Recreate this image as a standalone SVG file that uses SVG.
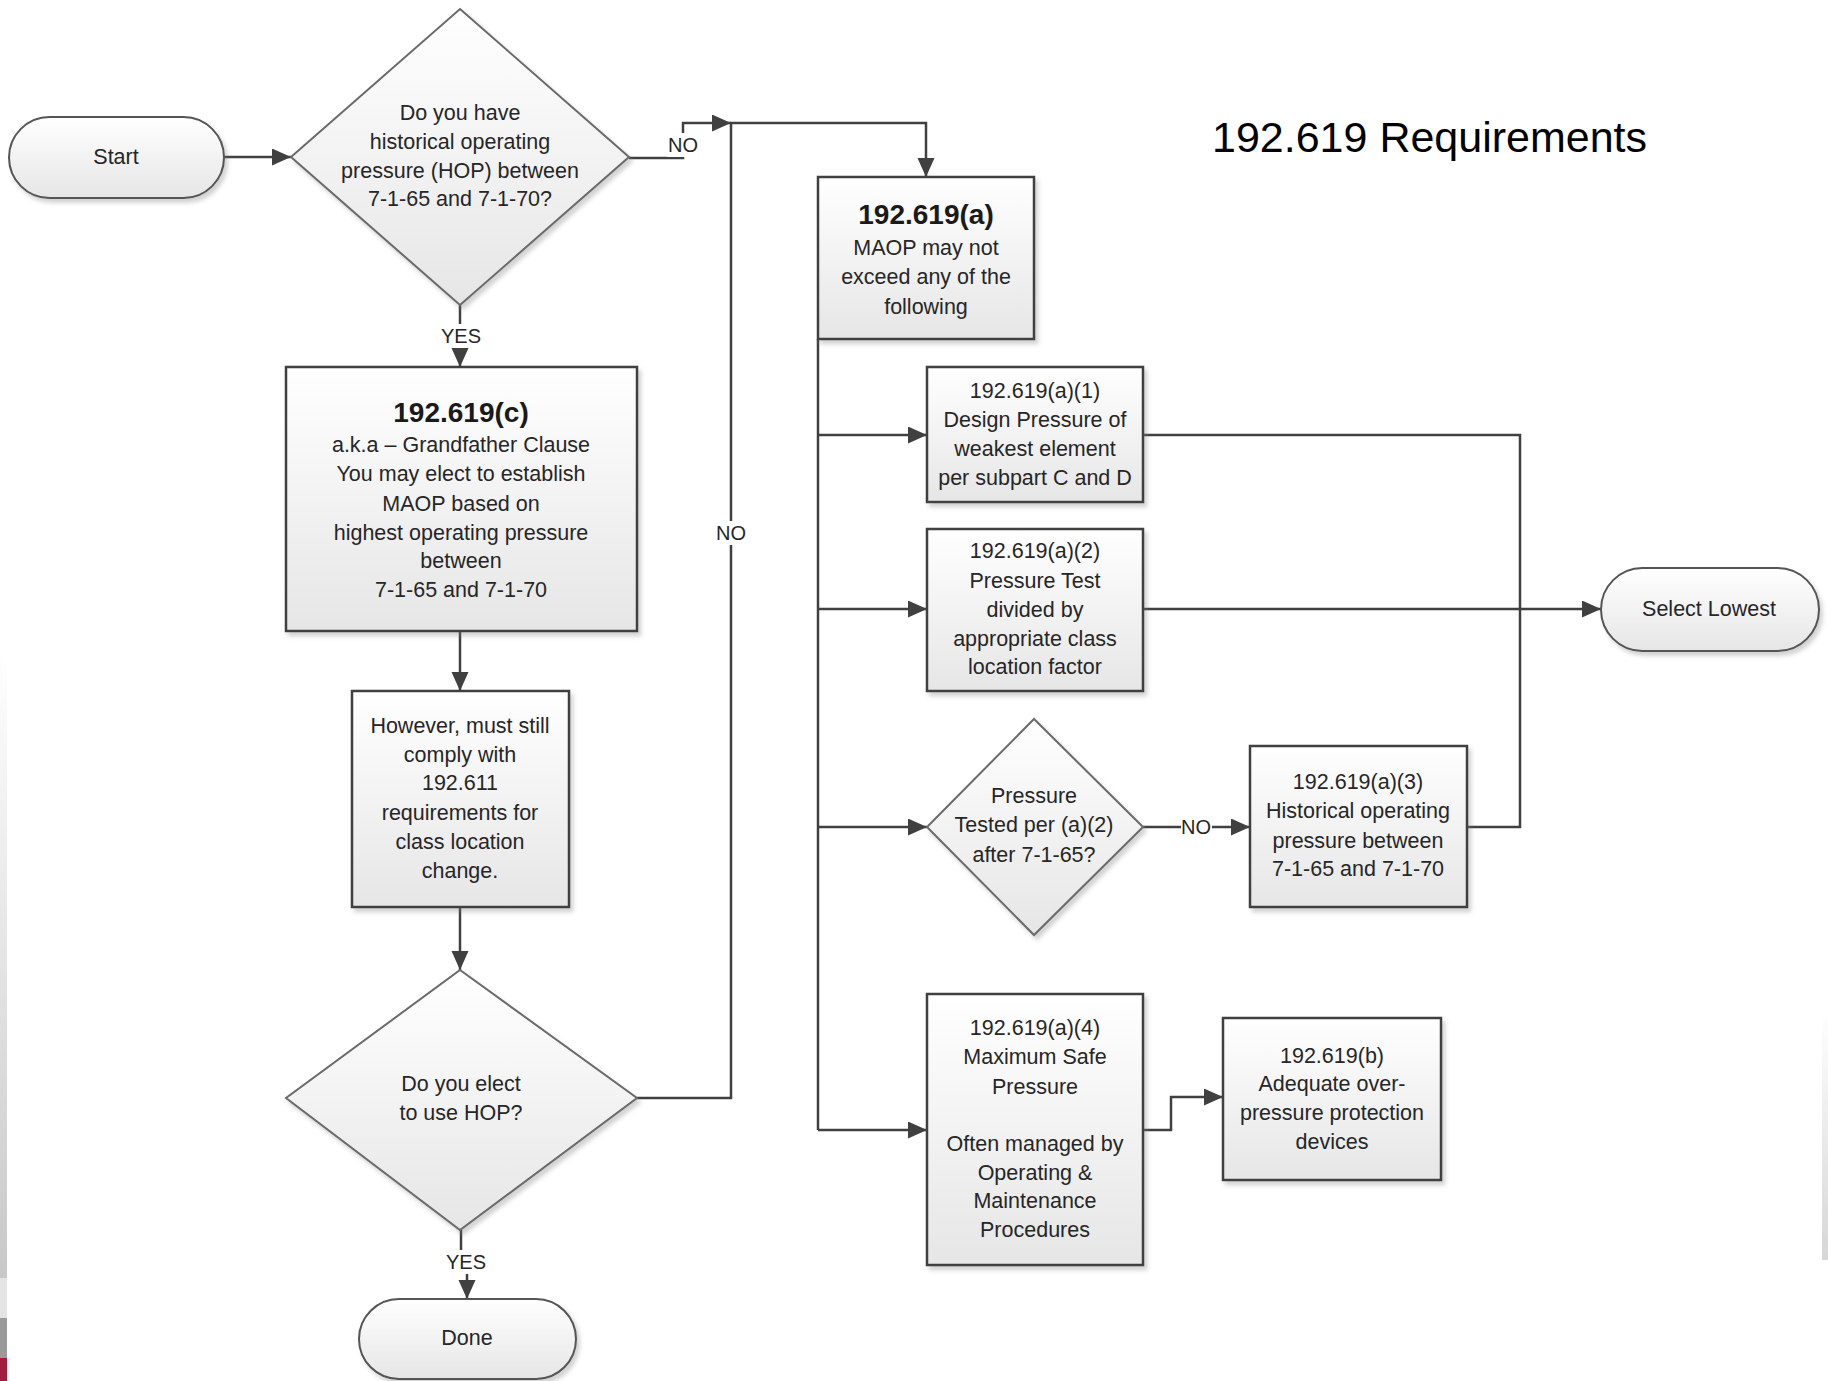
<svg xmlns="http://www.w3.org/2000/svg" width="1828" height="1381" viewBox="0 0 1828 1381">
  <style>
    text { font-family: "Liberation Sans", Arial, sans-serif; fill: #262626; text-anchor: middle; dominant-baseline: central; }
    .t { font-size: 21.5px; }
    .h { font-size: 28px; font-weight: bold; fill: #1a1a1a; }
    .lbl { font-size: 20px; }
    .title { font-size: 43px; fill: #000; text-anchor: start; }
    .box { fill: url(#shade); stroke: #404040; stroke-width: 2.5; filter: url(#shadow); }
    .dia { fill: url(#shade); stroke: #6a6a6a; stroke-width: 2; filter: url(#shadow); }
    .term { fill: url(#shade); stroke: #555; stroke-width: 2; filter: url(#shadow); }
    .wire { fill: none; stroke: #404040; stroke-width: 2.5; }
    .arrow { marker-end: url(#head); }
    .lblbg { fill: #fff; }
  </style>
  <defs>
    <linearGradient id="shade" x1="0" y1="0" x2="0" y2="1">
      <stop offset="0" stop-color="#ffffff"/>
      <stop offset="1" stop-color="#e6e6e6"/>
    </linearGradient>
    <linearGradient id="edgeL" x1="0" y1="0" x2="0" y2="1">
      <stop offset="0" stop-color="#ffffff"/>
      <stop offset="1" stop-color="#c8c8c8"/>
    </linearGradient>
    <linearGradient id="edgeR" x1="0" y1="0" x2="0" y2="1">
      <stop offset="0" stop-color="#ffffff"/>
      <stop offset="1" stop-color="#d6d6d6"/>
    </linearGradient>
    <filter id="shadow" x="-10%" y="-10%" width="130%" height="130%">
      <feDropShadow dx="3" dy="4" stdDeviation="2" flood-color="#808080" flood-opacity="0.35"/>
    </filter>
    <marker id="head" markerUnits="userSpaceOnUse" markerWidth="20" markerHeight="18" refX="19" refY="8.5" orient="auto">
      <path d="M0,0 L19,8.5 L0,17 Z" fill="#404040"/>
    </marker>
  </defs>

  <!-- page background and edge strips -->
  <rect x="0" y="0" width="1828" height="1381" fill="#fff"/>
  <rect x="0" y="650" width="7" height="628" fill="url(#edgeL)"/>
  <rect x="0" y="1278" width="7" height="40" fill="#e4e4e4"/>
  <rect x="0" y="1318" width="7" height="40" fill="#9a9a9a"/>
  <rect x="0" y="1358" width="7" height="23" fill="#a31d3d"/>
  <rect x="1822" y="1010" width="6" height="250" fill="url(#edgeR)"/>

  <text class="title" x="1212" y="137">192.619 Requirements</text>

  <!-- connectors -->
  <g id="connectors">
    <path class="wire arrow" d="M224 157 H291"/>
    <path class="wire arrow" d="M629 158 H683 V123 H731"/>
    <path class="wire arrow" d="M460 305 V367"/>
    <path class="wire arrow" d="M460 631 V691"/>
    <path class="wire arrow" d="M460 907 V970"/>
    <path class="wire arrow" d="M637 1098 H731 V123 H926 V177"/>
    <path class="wire arrow" d="M461 1230 V1261 H467 V1299"/>
    <path class="wire" d="M818 339 V1130"/>
    <path class="wire arrow" d="M818 435 H927"/>
    <path class="wire arrow" d="M818 609 H927"/>
    <path class="wire arrow" d="M818 827 H927"/>
    <path class="wire arrow" d="M818 1130 H927"/>
    <path class="wire" d="M1143 435 H1520 V609"/>
    <path class="wire arrow" d="M1143 609 H1601"/>
    <path class="wire" d="M1467 827 H1520 V609"/>
    <path class="wire arrow" d="M1143 827 H1250"/>
    <path class="wire arrow" d="M1143 1130 H1171 V1097 H1223"/>

    <!-- connector labels -->
    <rect class="lblbg" x="667" y="133" width="32" height="24"/>
    <text class="lbl" x="683" y="145">NO</text>
    <rect class="lblbg" x="445" y="324" width="32" height="24"/>
    <text class="lbl" x="461" y="336">YES</text>
    <rect class="lblbg" x="716" y="521" width="31" height="24"/>
    <text class="lbl" x="731" y="533">NO</text>
    <rect class="lblbg" x="1181" y="815" width="31" height="24"/>
    <text class="lbl" x="1196" y="827">NO</text>
    <rect class="lblbg" x="449" y="1250" width="34" height="24"/>
    <text class="lbl" x="466" y="1262">YES</text>
  </g>

  <!-- nodes -->
  <g id="start">
    <rect class="term" x="9" y="117" width="215" height="81" rx="40.5"/>
    <text class="t" x="116" y="157">Start</text>
  </g>

  <g id="q-hop">
    <polygon class="dia" points="460,9 629,157 460,305 291,157"/>
    <text class="t" x="460" y="113">Do you have</text>
    <text class="t" x="460" y="142">historical operating</text>
    <text class="t" x="460" y="171">pressure (HOP) between</text>
    <text class="t" x="460" y="199">7-1-65 and 7-1-70?</text>
  </g>

  <g id="grandfather">
    <rect class="box" x="286" y="367" width="351" height="264"/>
    <text class="h" x="461" y="412">192.619(c)</text>
    <text class="t" x="461" y="445">a.k.a – Grandfather Clause</text>
    <text class="t" x="461" y="474">You may elect to establish</text>
    <text class="t" x="461" y="504">MAOP based on</text>
    <text class="t" x="461" y="533">highest operating pressure</text>
    <text class="t" x="461" y="561">between</text>
    <text class="t" x="461" y="590">7-1-65 and 7-1-70</text>
  </g>

  <g id="comply">
    <rect class="box" x="352" y="691" width="217" height="216"/>
    <text class="t" x="460" y="726">However, must still</text>
    <text class="t" x="460" y="755">comply with</text>
    <text class="t" x="460" y="783">192.611</text>
    <text class="t" x="460" y="813">requirements for</text>
    <text class="t" x="460" y="842">class location</text>
    <text class="t" x="460" y="871">change.</text>
  </g>

  <g id="q-elect">
    <polygon class="dia" points="460,970 637,1098 460,1230 286,1098"/>
    <text class="t" x="461" y="1084">Do you elect</text>
    <text class="t" x="461" y="1113">to use HOP?</text>
  </g>

  <g id="done">
    <rect class="term" x="359" y="1299" width="217" height="80" rx="40"/>
    <text class="t" x="467" y="1338">Done</text>
  </g>

  <g id="req-a">
    <rect class="box" x="818" y="177" width="216" height="162"/>
    <text class="h" x="926" y="214">192.619(a)</text>
    <text class="t" x="926" y="248">MAOP may not</text>
    <text class="t" x="926" y="277">exceed any of the</text>
    <text class="t" x="926" y="307">following</text>
  </g>

  <g id="req-a1">
    <rect class="box" x="927" y="367" width="216" height="135"/>
    <text class="t" x="1035" y="391">192.619(a)(1)</text>
    <text class="t" x="1035" y="420">Design Pressure of</text>
    <text class="t" x="1035" y="449">weakest element</text>
    <text class="t" x="1035" y="478">per subpart C and D</text>
  </g>

  <g id="req-a2">
    <rect class="box" x="927" y="529" width="216" height="162"/>
    <text class="t" x="1035" y="551">192.619(a)(2)</text>
    <text class="t" x="1035" y="581">Pressure Test</text>
    <text class="t" x="1035" y="610">divided by</text>
    <text class="t" x="1035" y="639">appropriate class</text>
    <text class="t" x="1035" y="667">location factor</text>
  </g>

  <g id="q-tested">
    <polygon class="dia" points="1034,719 1143,827 1034,935 927,827"/>
    <text class="t" x="1034" y="796">Pressure</text>
    <text class="t" x="1034" y="825">Tested per (a)(2)</text>
    <text class="t" x="1034" y="855">after 7-1-65?</text>
  </g>

  <g id="req-a3">
    <rect class="box" x="1250" y="746" width="217" height="161"/>
    <text class="t" x="1358" y="782">192.619(a)(3)</text>
    <text class="t" x="1358" y="811">Historical operating</text>
    <text class="t" x="1358" y="841">pressure between</text>
    <text class="t" x="1358" y="869">7-1-65 and 7-1-70</text>
  </g>

  <g id="req-a4">
    <rect class="box" x="927" y="994" width="216" height="271"/>
    <text class="t" x="1035" y="1028">192.619(a)(4)</text>
    <text class="t" x="1035" y="1057">Maximum Safe</text>
    <text class="t" x="1035" y="1087">Pressure</text>
    <text class="t" x="1035" y="1144">Often managed by</text>
    <text class="t" x="1035" y="1173">Operating &amp;</text>
    <text class="t" x="1035" y="1201">Maintenance</text>
    <text class="t" x="1035" y="1230">Procedures</text>
  </g>

  <g id="req-b">
    <rect class="box" x="1223" y="1018" width="218" height="162"/>
    <text class="t" x="1332" y="1056">192.619(b)</text>
    <text class="t" x="1332" y="1084">Adequate over-</text>
    <text class="t" x="1332" y="1113">pressure protection</text>
    <text class="t" x="1332" y="1142">devices</text>
  </g>

  <g id="select-lowest">
    <rect class="term" x="1601" y="568" width="218" height="83" rx="41.5"/>
    <text class="t" x="1709" y="609">Select Lowest</text>
  </g>
</svg>
